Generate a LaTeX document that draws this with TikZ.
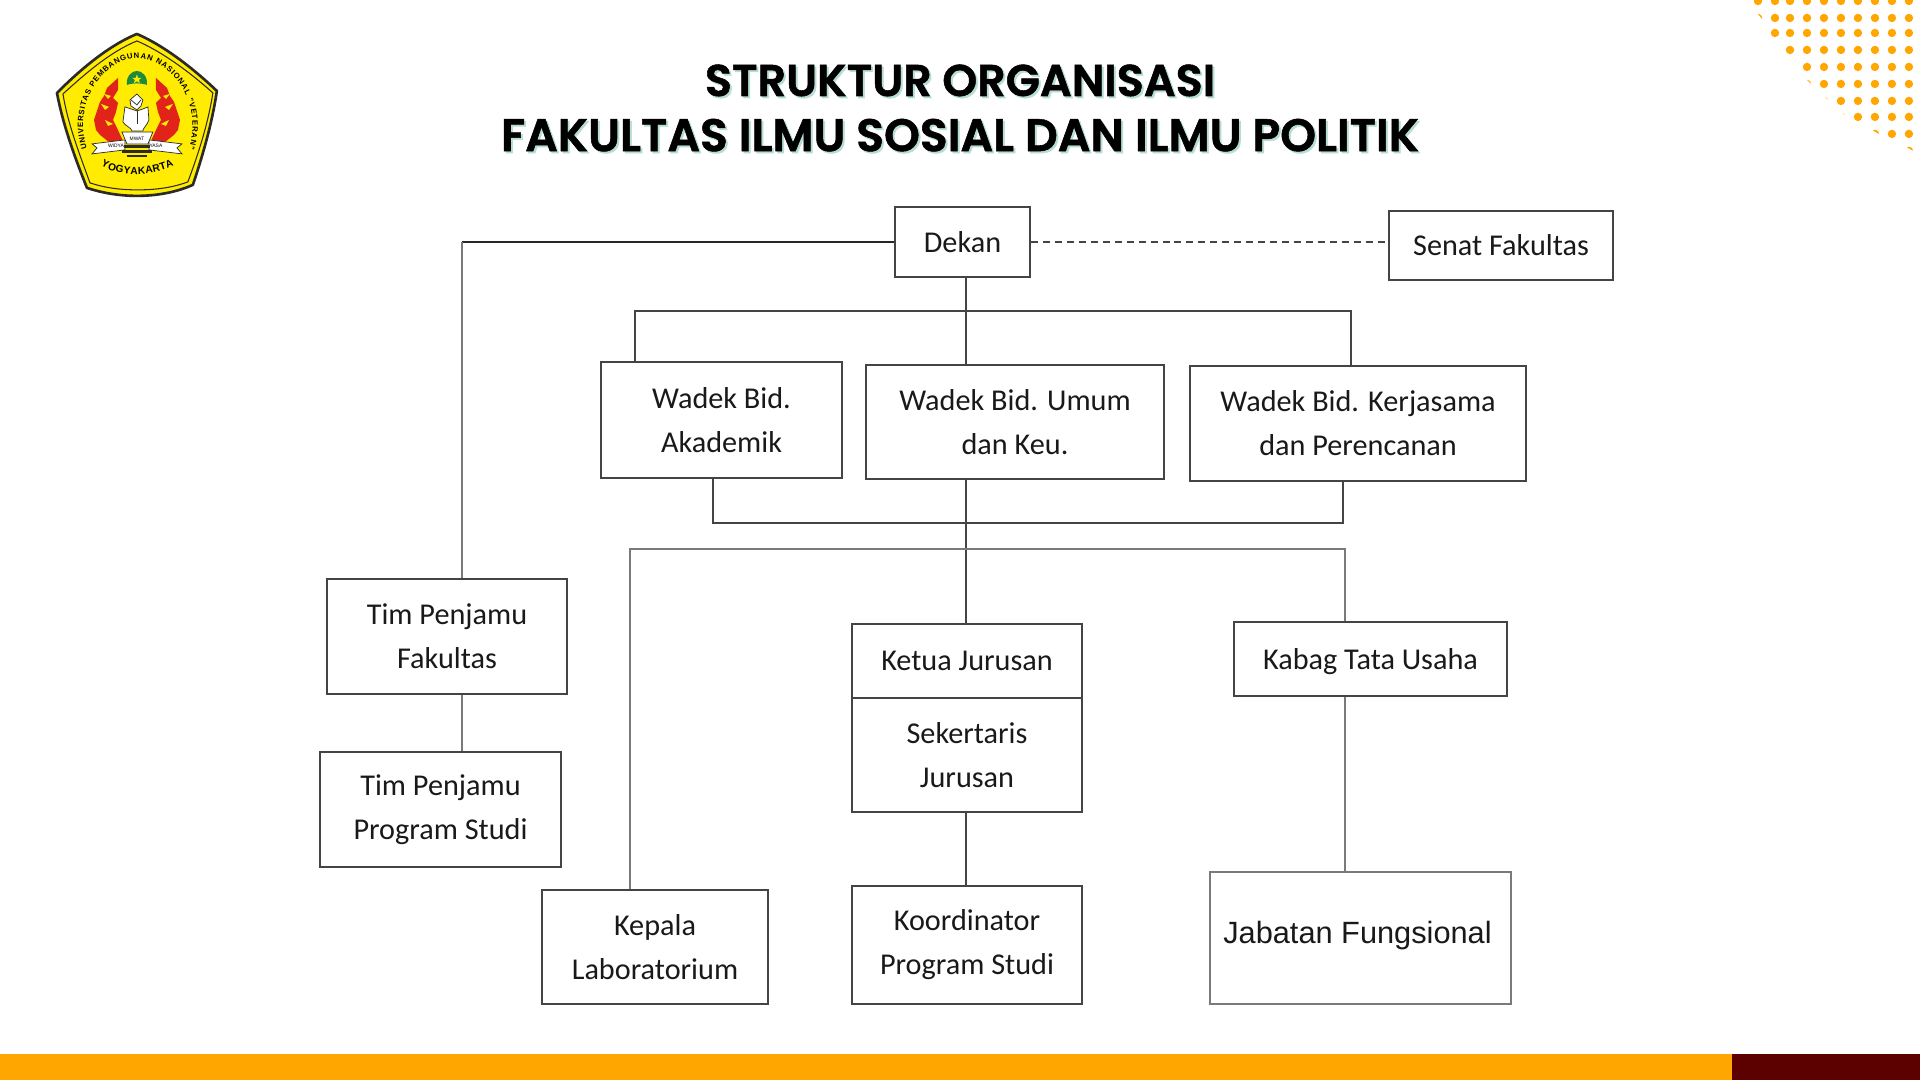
\documentclass[tikz,border=0pt]{standalone}
\usepackage{fontspec}
\setmainfont{Carlito}
\newfontfamily\titlefont[FakeBold=1.2]{Poppins SemiBold}
\newfontfamily\arialfont{Liberation Sans}
\usetikzlibrary{calc,decorations.text}
\definecolor{orange500}{HTML}{FFA600}
\definecolor{maroon800}{HTML}{5C0000}
\definecolor{line700}  {HTML}{444444}
\definecolor{line500}  {HTML}{7A7A7A}
\definecolor{teal200}  {HTML}{B5DDD5}
\definecolor{logoyel}  {HTML}{FFEC00}
\definecolor{logored}  {HTML}{E2231A}
\definecolor{logogrn}  {HTML}{1F8A3C}
\definecolor{logoink}  {HTML}{2B2A26}
\newcommand{\logosmall}{\arialfont\bfseries\fontsize{2.2}{3}\selectfont}
\newcommand{\logolarge}{\arialfont\bfseries\fontsize{2.9}{3}\selectfont}
\newcommand{\titletop}{\fontsize{12.65}{15}\selectfont}
\tikzset{
  orgbox/.style ={draw=line700, line width=0.6pt, fill=white, align=center,
                  inner sep=0pt, font=\fontsize{8.6}{12.5}\selectfont,
                  text=black!90},
  ar/.style     ={draw=line700, line width=0.5pt},
  arb/.style    ={draw=black!85, line width=0.7pt},
  arn/.style    ={draw=line500, line width=0.55pt},
  ard/.style    ={draw=line700, line width=0.5pt, dash pattern=on 2pt off 1.4pt},
  heading/.style={font=\titlefont\fontsize{13}{15}\selectfont, inner sep=0pt},
  logotag/.style={font=\arialfont\fontsize{1.4}{2}\selectfont, inner sep=0pt},
  petal/.style  ={fill=white, draw=logoink, line width=0.2pt},
  dot/.style    ={fill=orange500, draw=none}
}
\begin{document}
\begin{tikzpicture}
\useasboundingbox (0,0) rectangle (19.2,10.8);
% bottom strip
\fill[orange500] (0,0) rectangle (17.32,0.26);
\fill[maroon800] (17.32,0) rectangle (19.2,0.26);
% dots, upper right
\begin{scope}[shift={(0,10.8)},x=0.01cm,y=-0.01cm]
\clip (1750,-2) -- (1758,13) -- (1764,20) -- (1771,34) -- (1792,62) -- (1810,82)
  -- (1827,98) -- (1853,122) -- (1873,130) -- (1880,134) -- (1907,147)
  -- (1920,154) -- (1920,-2) -- cycle;
\foreach \py in {1,18,33,50,67,84,101,117,134,151}
  \foreach \px in {1759,1776,1791,1808,1825,1842,1859,1876,1893,1910}
    \fill[dot] (\px,\py) circle (0.042cm);
\end{scope}
% logo
\begin{scope}[shift={(0,10.8)},x=0.01cm,y=-0.01cm]
\filldraw[fill=logoyel, draw=logoink, line width=0.75pt, line join=round]
  (137,34) .. controls (165,46) and (195,70) .. (217,91)
  .. controls (212,125) and (202,158) .. (193,185)
  .. controls (175,193) and (155,196) .. (137,196)
  .. controls (119,196) and (102,193) .. (87,188)
  .. controls (75,158) and (63,125) .. (57,93)
  .. controls (80,70) and (108,46) .. cycle;
\draw[logoink, line width=0.3pt, line join=round]
  (137,41) .. controls (163,52) and (192,74) .. (213,93)
  .. controls (208,125) and (198,155) .. (188,182)
  .. controls (172,188) and (155,190) .. (138,190)
  .. controls (120,190) and (105,188) .. (90,183)
  .. controls (80,155) and (68,125) .. (63,94)
  .. controls (85,74) and (110,52) .. cycle;
\path[postaction={decorate, decoration={text along path, text align={fit to path},
  text={|\logosmall|UNIVERSITAS PEMBANGUNAN NASIONAL "VETERAN"}}}]
  (87,149) .. controls (72,100) and (105,60) .. (137,58)
  .. controls (170,60) and (204,100) .. (189,149);
\path[postaction={decorate, decoration={text along path, text align={fit to path},
  text={|\logolarge|YOGYAKARTA}}}]
  (101,166) .. controls (120,177) and (152,177) .. (174,166);
% helmet and star
\fill[logogrn] (127,85) .. controls (126,76) and (132,71) .. (137,71)
  .. controls (142,71) and (148,76) .. (147,85) .. controls (142,83) and (132,83) .. cycle;
\fill[logoyel] (137,74.5) -- (138.2,78) -- (141.5,78) -- (139,80) -- (140,83.2)
  -- (137,81.3) -- (134,83.2) -- (135,80) -- (132.5,78) -- (135.8,78) -- cycle;
% flames, mirrored about the middle
\foreach \sgn in {1,-1}{
  \begin{scope}[xshift=1.37cm, x=\sgn*0.01cm]
  \fill[logored] (-19,78) -- (-30,88) -- (-33,96) -- (-37,102) -- (-43,120)
    -- (-41,130) -- (-37,135) -- (-27,143) -- (-14,141) -- (-20,128) -- (-24,120)
    -- (-21,112) -- (-19,103) -- (-24,98) -- (-19,90) -- cycle;
  \fill[logoyel] (-33,94) -- (-26,96) -- (-29,99) -- cycle;
  \fill[logoyel] (-36,104) -- (-28,107) -- (-32,110) -- cycle;
  \fill[logoyel] (-32,120) -- (-24,124) -- (-29,126) -- cycle;
  \filldraw[petal] (-45,154) -- (-40,148) -- (-45,144) -- (-12,140) -- (-12,150) -- cycle;
  \end{scope}
}
% tulip, bowl and stand
\filldraw[petal] (125,107) -- (131,109) -- (137,111) -- (143,109) -- (148,107) -- (149,120)
  .. controls (147,126) and (143,128) .. (143,131) -- (132,131)
  .. controls (132,128) and (125,126) .. (123,122) -- cycle;
\filldraw[petal] (137,94) -- (143,100) -- (141,106) -- (137,110) -- (131,106) -- (130,100) -- cycle;
\draw[logoink, line width=0.2pt] (131,100) -- (137,105) -- (141,100);
\draw[logoink, line width=0.2pt] (137,111) -- (137,124);
\filldraw[petal] (122,132) -- (153,132) -- (148,144) -- (127,144) -- cycle;
\fill[logoink] (124,145) rectangle (150,148);
\fill[logoink] (122,150) rectangle (152,153);
\fill[logoink] (127,155) rectangle (147,157);
\node[logotag] (widya) at (116,145.5) {WIDYA};
\node[logotag] (mwati) at (137,138.5) {MWAT};
\node[logotag] (yasa)  at (156,145.5) {YASA};
\end{scope}
% title
\node[heading, text=teal200] (titleback) at (9.62,9.70)
  {\shortstack{{\titletop STRUKTUR ORGANISASI}\\[3.4pt]FAKULTAS ILMU SOSIAL DAN ILMU POLITIK}};
\node[heading] (title) at (9.60,9.72)
  {\shortstack{{\titletop STRUKTUR ORGANISASI}\\[3.4pt]FAKULTAS ILMU SOSIAL DAN ILMU POLITIK}};
% boxes
\node[orgbox, minimum width=1.35cm, minimum height=0.70cm] (dekan) at (9.625,8.38) {Dekan};
\node[orgbox, minimum width=2.24cm, minimum height=0.69cm] (senat) at (15.01,8.345) {Senat Fakultas};
\node[orgbox, minimum width=2.41cm, minimum height=1.16cm] (akademik) at (7.215,6.60) {Wadek Bid.\\Akademik};
\node[orgbox, minimum width=2.98cm, minimum height=1.14cm] (umum) at (10.15,6.58) {Wadek Bid. Umum\\dan Keu.};
\node[orgbox, minimum width=3.36cm, minimum height=1.15cm] (kerjasama) at (13.58,6.565) {Wadek Bid. Kerjasama\\dan Perencanan};
\node[orgbox, minimum width=2.40cm, minimum height=1.15cm] (timfak) at (4.47,4.435) {Tim Penjamu\\Fakultas};
\node[orgbox, minimum width=2.41cm, minimum height=1.15cm] (timprodi) at (4.405,2.705) {Tim Penjamu\\Program Studi};
\node[orgbox, minimum width=2.30cm, minimum height=0.735cm] (ketua) at (9.67,4.19) {Ketua Jurusan};
\node[orgbox, minimum width=2.30cm, minimum height=1.14cm] (sekretaris) at (9.67,3.25) {Sekertaris\\Jurusan};
\node[orgbox, minimum width=2.73cm, minimum height=0.735cm, text depth=0pt] (kabag) at (13.705,4.21) {Kabag Tata Usaha};
\node[orgbox, minimum width=2.26cm, minimum height=1.14cm] (kepala) at (6.55,1.33) {Kepala\\Laboratorium};
\node[orgbox, minimum width=2.30cm, minimum height=1.175cm] (koordinator) at (9.67,1.35) {Koordinator\\Program Studi};
\node[orgbox, minimum width=3.01cm, minimum height=1.32cm, draw=line500, line width=0.4pt, text depth=1.2mm,
      font=\arialfont\fontsize{8.75}{10}\selectfont] (jabatan) at (13.605,1.42) {\hspace*{-0.6mm}Jabatan Fungsional};
% joints on the lines
\coordinate (tf)   at (4.62,5.21);
\coordinate (bus1) at (9.66,7.69);
\coordinate (ak)   at (6.35,7.69);
\coordinate (wk)   at (13.51,7.69);
\coordinate (bus2) at (9.66,5.31);
\coordinate (br1)  at (7.13,5.57);
\coordinate (br2)  at (13.43,5.57);
\coordinate (kp)   at (6.30,5.31);
\coordinate (kb)   at (13.45,5.31);
% connectors
\draw[arb] (dekan.west) -- (tf |- dekan.west);
\draw[arn] (tf |- dekan.west) -- (tf |- timfak.north);
\draw[ard] (dekan.east) -- (senat.west |- dekan.east);
\draw[ar]  (dekan.south -| bus1) -- (umum.north -| bus1);
\draw[ar]  (ak |- akademik.north) -- (ak) -- (wk) -- (wk |- kerjasama.north);
\draw[ar]  (umum.south -| bus1) -- (ketua.north -| bus1);
\draw[ar]  (br1 |- akademik.south) -- (br1) -- (br2) -- (br2 |- kerjasama.south);
\draw[arn] (kp |- kepala.north) -- (kp) -- (kb) -- (kb |- kabag.north);
\draw[arn] (tf |- timfak.south) -- (tf |- timprodi.north);
\draw[ar]  (sekretaris.south -| bus1) -- (koordinator.north -| bus1);
\draw[arn] (kb |- kabag.south) -- (kb |- jabatan.north);
\end{tikzpicture}
\end{document}
